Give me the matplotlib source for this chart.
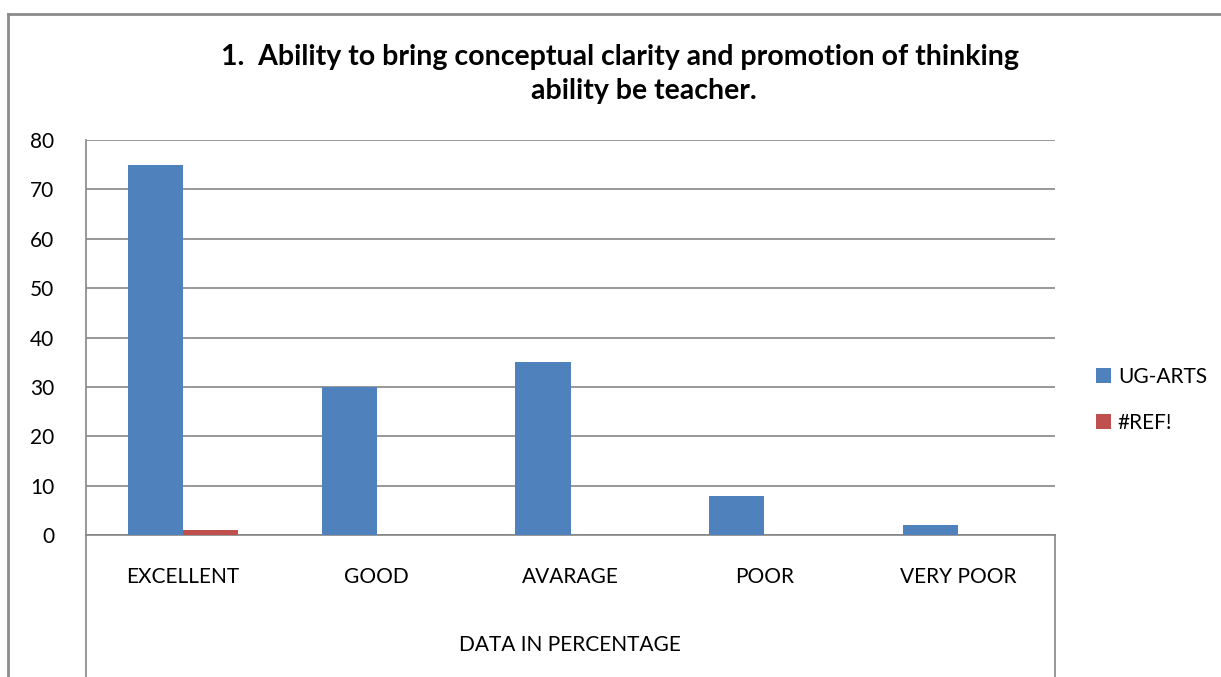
import matplotlib
matplotlib.use("Agg")
import matplotlib.pyplot as plt
import numpy as np
from matplotlib.transforms import blended_transform_factory
from matplotlib.lines import Line2D
from matplotlib.patches import Patch

plt.rcParams['font.family'] = ['Lato', 'DejaVu Sans']

categories = ["EXCELLENT", "GOOD", "AVARAGE", "POOR", "VERY POOR"]
ug_arts = [75, 30, 35, 8, 2]
ref_err = [1, 0, 0, 0, 0]
series_names = ["UG-ARTS", "#REF!"]
yticks = [0, 10, 20, 30, 40, 50, 60, 70, 80]
axis_title = "DATA IN PERCENTAGE"
title_line1 = "1.  Ability to bring conceptual clarity and promotion of thinking"
title_line2 = "ability be teacher."

W, H = 1221, 677
fig = plt.figure(figsize=(W / 100, H / 100), dpi=100)
fig.patch.set_facecolor('white')

def fx(px):
    return px / W

def fy(py):
    return 1 - py / H

ax = fig.add_axes([fx(86), fy(535), fx(1055) - fx(86), fy(140) - fy(535)])
blue = '#4F81BD'
red = '#C0504D'
grid_c = '#868686'

x = np.arange(len(categories))
w = 0.284
ax.bar(x - w / 2, ug_arts, width=w, color=blue, zorder=3)
ax.bar(x + w / 2, ref_err, width=w, color=red, zorder=3)

ax.set_xlim(-0.5, len(categories) - 0.5)
ax.set_ylim(0, 80)
ax.set_yticks(yticks)
ax.set_yticklabels([str(v) for v in yticks], fontsize=15)
ax.tick_params(axis='y', length=0, pad=23)
ax.set_xticks([])
ax.yaxis.grid(True, color=grid_c, linewidth=1.2, zorder=0)
for s in ['top', 'right']:
    ax.spines[s].set_visible(False)
ax.spines['left'].set_color(grid_c)
ax.spines['bottom'].set_color(grid_c)
ax.spines['left'].set_linewidth(1.2)
ax.spines['bottom'].set_linewidth(1.2)

# category labels
tr = blended_transform_factory(ax.transData, fig.transFigure)
for xi, c in zip(x, categories):
    ax.text(xi, fy(577), c, transform=tr, ha='center', va='center', fontsize=15)

# multi-level axis box
for px in (86, 1055):
    fig.add_artist(Line2D([fx(px), fx(px)], [fy(535), fy(680)], color=grid_c, linewidth=1.2))
fig.text(fx(570), fy(645), axis_title, ha='center', va='center', fontsize=15)

# outer frame
fig.add_artist(Line2D([fx(8), fx(8)], [fy(14), fy(680)], color='#8c8c8c', linewidth=2))
fig.add_artist(Line2D([fx(8), fx(1225)], [fy(14), fy(14)], color='#8c8c8c', linewidth=2))

# title
fig.text(fx(620), fy(57), title_line1, ha='center', va='center', fontsize=20.5, fontweight='bold')
fig.text(fx(644), fy(91), title_line2, ha='center', va='center', fontsize=20.5, fontweight='bold')

# legend
handles = [Patch(facecolor=blue), Patch(facecolor=red)]
fig.legend(handles, series_names, loc='center left', bbox_to_anchor=(fx(1096), fy(400)),
           frameon=False, fontsize=15, handlelength=0.7, handleheight=0.7,
           handletextpad=0.35, labelspacing=1.25, borderpad=0, borderaxespad=0)

fig.savefig('out.png', dpi=100)
